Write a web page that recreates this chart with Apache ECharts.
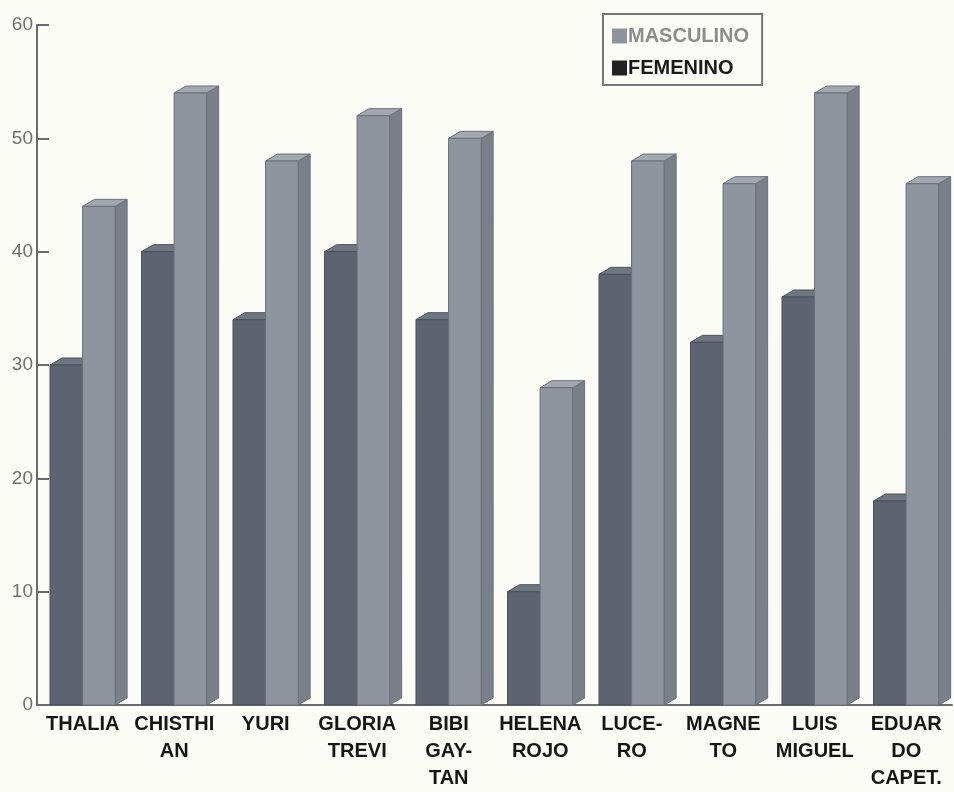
<!DOCTYPE html>
<html>
<head>
<meta charset="utf-8">
<script src="https://cdn.jsdelivr.net/npm/echarts@6/dist/echarts.min.js"></script>
<style>
  html, body { margin: 0; padding: 0; background: #fcfcf6; }
  #chart { width: 954px; height: 792px; }
</style>
</head>
<body>
<div id="chart"></div>
<script>
// Categories (names split across lines as printed under each pair of bars)
const categories = [
  'THALIA', 'CHISTHI\nAN', 'YURI', 'GLORIA\nTREVI', 'BIBI\nGAY-\nTAN',
  'HELENA\nROJO', 'LUCE-\nRO', 'MAGNE\nTO', 'LUIS\nMIGUEL', 'EDUAR\nDO\nCAPET.'
];
const femenino  = [30, 40, 34, 40, 34, 10, 38, 32, 36, 18];
const masculino = [44, 54, 48, 52, 50, 28, 48, 46, 54, 46];
const yTicks = { min: 0, max: 60, interval: 10 };

// Pseudo-3D bar: front face, top face and right side face
const DEPTH_X = 12, DEPTH_Y = 7;
function bar3d(slot, colors) {
  return function (params, api) {
    const band = api.size([1, 0])[0];
    const center = api.coord([api.value(0), 0]);
    const top = api.coord([api.value(0), api.value(1)]);
    const start = center[0] - band / 2;
    const frontW = band * 0.356;
    const x0 = start + band * 0.142 + slot * frontW;
    const x1 = x0 + frontW;
    const y0 = center[1];
    const y1 = top[1];
    const edge = { stroke: colors.edge, lineWidth: 1 };
    return {
      type: 'group',
      children: [
        {
          type: 'polygon',
          shape: { points: [[x1, y0], [x1 + DEPTH_X, y0 - DEPTH_Y], [x1 + DEPTH_X, y1 - DEPTH_Y], [x1, y1]] },
          style: Object.assign({ fill: colors.side }, edge)
        },
        {
          type: 'polygon',
          shape: { points: [[x0, y1], [x0 + DEPTH_X, y1 - DEPTH_Y], [x1 + DEPTH_X, y1 - DEPTH_Y], [x1, y1]] },
          style: Object.assign({ fill: colors.top }, edge)
        },
        {
          type: 'rect',
          shape: { x: x0, y: y1, width: frontW, height: y0 - y1 },
          style: Object.assign({ fill: colors.front }, edge)
        }
      ]
    };
  };
}

const darkColors  = { front: '#5b6470', top: '#6d7681', side: '#4f5761', edge: '#4a515a' };
const lightColors = { front: '#8e959f', top: '#a2a8b0', side: '#79808a', edge: '#69707a' };

const chart = echarts.init(document.getElementById('chart'), null, { renderer: 'canvas' });
chart.setOption({
  backgroundColor: '#fcfcf7',
  animation: false,
  grid: { left: 37, right: 2, top: 25, bottom: 82, containLabel: false },
  legend: {
    orient: 'vertical',
    left: 603,
    top: 14,
    padding: [12, 13, 7, 9],
    itemGap: 12,
    itemWidth: 15,
    itemHeight: 15,
    borderColor: '#777777',
    borderWidth: 2,
    icon: 'rect',
    data: [
      { name: 'MASCULINO', textStyle: { color: '#8c8c8c' } },
      { name: 'FEMENINO', textStyle: { color: '#1a1a1a' } }
    ],
    textStyle: { fontFamily: 'Liberation Sans, Arial, sans-serif', fontWeight: 'bold', fontSize: 20, lineHeight: 20, padding: [0, 0, 0, -4] }
  },
  xAxis: {
    type: 'category',
    data: categories,
    axisLine: { lineStyle: { color: '#6a6a6a', width: 2 } },
    axisTick: { show: false },
    axisLabel: {
      interval: 0,
      margin: 6,
      color: '#151515',
      fontFamily: 'Liberation Sans, Arial, sans-serif',
      fontWeight: 'bold',
      fontSize: 20,
      lineHeight: 27
    },
    splitLine: { show: false }
  },
  yAxis: {
    type: 'value',
    min: yTicks.min,
    max: yTicks.max,
    interval: yTicks.interval,
    axisLine: { show: true, lineStyle: { color: '#6a6a6a', width: 2 } },
    axisTick: { show: true, inside: true, length: 12, lineStyle: { color: '#6a6a6a', width: 2 } },
    axisLabel: {
      margin: 4,
      color: '#707070',
      fontFamily: 'Liberation Sans, Arial, sans-serif',
      fontSize: 19
    },
    splitLine: { show: false }
  },
  series: [
    {
      name: 'FEMENINO',
      type: 'custom',
      itemStyle: { color: '#222222' },
      encode: { x: 0, y: 1 },
      data: femenino.map((v, i) => [i, v]),
      renderItem: bar3d(0, darkColors),
      z: 2
    },
    {
      name: 'MASCULINO',
      type: 'custom',
      itemStyle: { color: '#8e959f' },
      encode: { x: 0, y: 1 },
      data: masculino.map((v, i) => [i, v]),
      renderItem: bar3d(1, lightColors),
      z: 3
    }
  ]
});
</script>
</body>
</html>
